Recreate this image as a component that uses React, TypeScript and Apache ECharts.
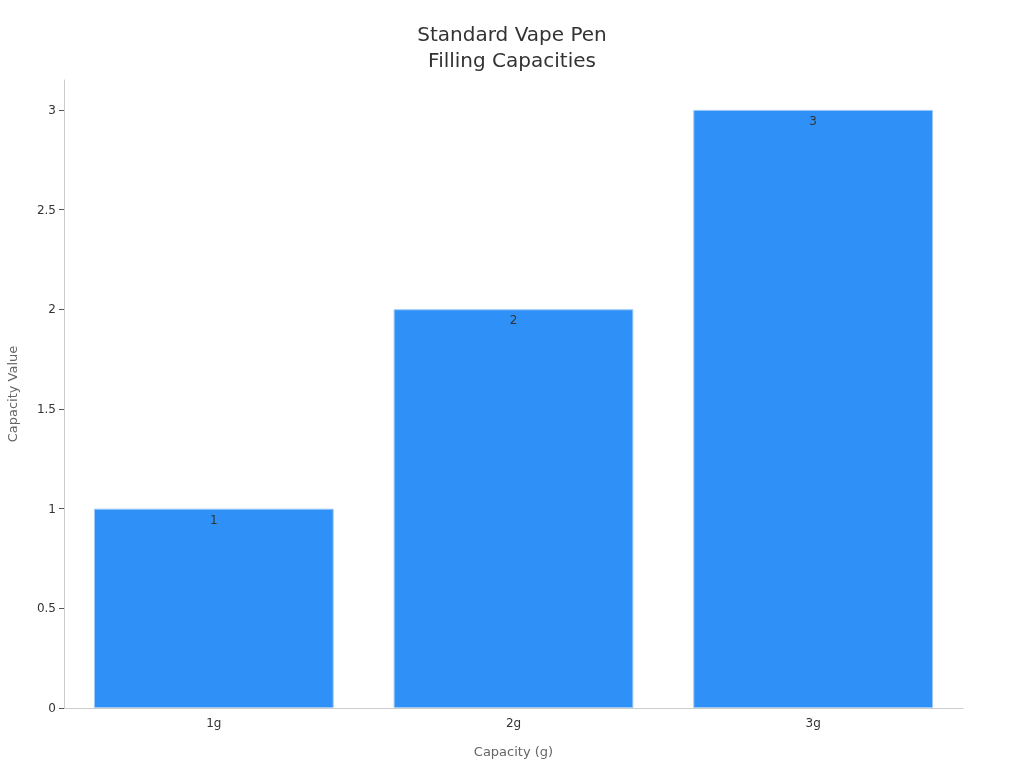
import * as echarts from "echarts";
import { useEffect, useRef } from "react";

const categories = ["1g", "2g", "3g"];
const capacityValues = [1, 2, 3];
const yTicks = [0, 0.5, 1, 1.5, 2, 2.5, 3];

export default function App() {
  const chartRef = useRef<HTMLDivElement>(null);

  useEffect(() => {
    if (!chartRef.current) return;
    const chart = echarts.init(chartRef.current, null, { renderer: "svg" });

    const option = {
      animation: false,
      textStyle: { fontFamily: "DejaVu Sans" },
      title: {
        text: "Standard Vape Pen\nFilling Capacities",
        left: "center",
        top: 16,
        textStyle: {
          fontSize: 20,
          fontWeight: "normal",
          color: "#333",
          lineHeight: 26,
        },
      },
      grid: { left: 64, right: 61, top: 80, bottom: 60, outerBoundsMode: "none", containLabel: false },
      xAxis: {
        type: "category",
        data: categories,
        name: "Capacity (g)",
        nameLocation: "middle",
        nameGap: 37,
        nameTextStyle: { color: "#666", fontSize: 13 },
        axisLine: { lineStyle: { color: "#ccc" } },
        axisTick: { alignWithLabel: true, length: 5, lineStyle: { color: "#555" } },
        axisLabel: { color: "#333", fontSize: 12, margin: 9 },
      },
      yAxis: {
        type: "value",
        min: 0,
        max: 3.15,
        name: "Capacity Value",
        nameLocation: "middle",
        nameGap: 45,
        nameTextStyle: { color: "#666", fontSize: 13 },
        axisLine: { show: true, lineStyle: { color: "#ccc" } },
        axisTick: {
          show: true,
          length: 5,
          customValues: yTicks,
          lineStyle: { color: "#555" },
        },
        axisLabel: { color: "#333", fontSize: 12, margin: 8, customValues: yTicks },
        splitLine: { show: false },
      },
      series: [
        {
          type: "bar",
          data: capacityValues,
          barWidth: "80%",
          itemStyle: {
            color: "#2f91f7",
            borderColor: "#9ccaf7",
            borderWidth: 1,
          },
          label: {
            show: true,
            position: "insideTop",
            distance: 5,
            color: "#333",
            fontSize: 12,
          },
        },
      ],
    };

    chart.setOption(option);
    return () => chart.dispose();
  }, []);

  return (
    <div
      ref={chartRef}
      style={{ position: "fixed", left: 0, top: 0, width: 1024, height: 768 }}
    />
  );
}
